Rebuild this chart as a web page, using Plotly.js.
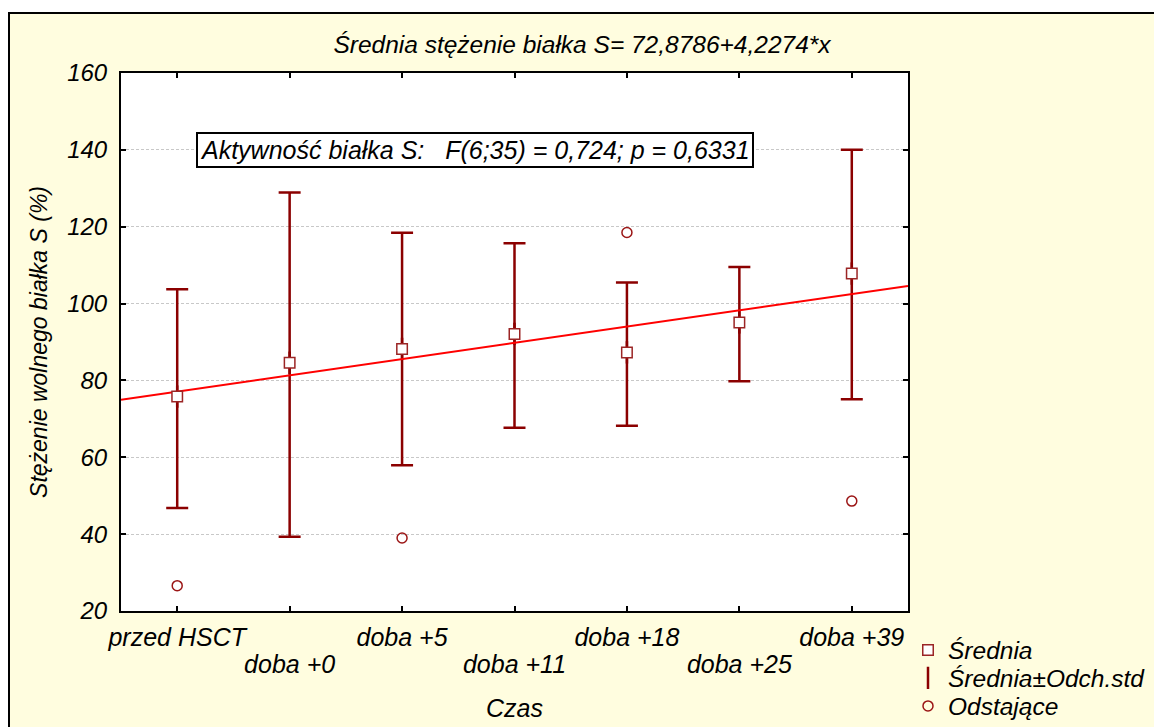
<!DOCTYPE html>
<html>
<head>
<meta charset="utf-8">
<script src="https://cdn.plot.ly/plotly-3.0.1.min.js"></script>
<style>
  html, body { margin:0; padding:0; background:#ffffff; overflow:hidden; }
  #frame { position:absolute; left:8px; top:12px; border-left:2px solid #000; border-top:2px solid #000; }
  #plot { width:1144px; height:713px; }
</style>
</head>
<body>
<div id="frame"><div id="plot"></div></div>
<script>
// ---- data ----
const categories = ["przed HSCT", "doba +0", "doba +5", "doba +11", "doba +18", "doba +25", "doba +39"];
const means      = [75.8, 84.6, 88.2, 92.1, 87.3, 95.1, 107.8];
const upperSD    = [103.7, 128.9, 118.4, 115.7, 105.5, 109.5, 140.0];
const lowerSD    = [46.8, 39.3, 57.9, 67.7, 68.2, 79.8, 75.1];
const outlierCategories = ["przed HSCT", "doba +5", "doba +18", "doba +39"];
const outlierValues     = [26.6, 39.0, 118.5, 48.6];
const yTickValues = [20, 40, 60, 80, 100, 120, 140, 160];
const fitIntercept = 72.8786;
const fitSlope = 4.2274;
const titleText = "Średnia stężenie białka S= 72,8786+4,2274*x";
const statsText = "Aktywność białka S:\u00A0\u00A0 F(6;35) = 0,724; p = 0,6331";
const xTitle = "Czas";
const yTitle = "Stężenie wolnego białka S (%)";

// ---- derived ----
const idx = categories.map((c, i) => i);
const errPlus  = upperSD.map((u, i) => u - means[i]);
const errMinus = lowerSD.map((l, i) => means[i] - l);
const outlierX = outlierCategories.map(c => categories.indexOf(c));
const xRange = [-0.5, categories.length - 0.5];
const fitX = xRange.slice();
const fitY = fitX.map(x => fitIntercept + fitSlope * (x + 1));
const row2Vals = idx.filter(i => i % 2 === 1);

const dark = "#8B0000";
const font = '"Liberation Sans", Arial, sans-serif';
const F = (size) => ({ family: font, size: size, color: "#000", style: "italic" });
const H = 713;

const traces = [
  {
    x: idx, y: means, type: "scatter", mode: "markers", name: "Średnia±Odch.std",
    legend: "legend2", xaxis: "x", yaxis: "y",
    marker: { symbol: "line-ns-open", size: 16, color: dark, line: { color: dark, width: 2.5 } },
    error_y: { type: "data", symmetric: false, array: errPlus, arrayminus: errMinus,
               color: dark, thickness: 2.5, width: 11 },
    hoverinfo: "skip"
  },
  {
    x: fitX, y: fitY, type: "scatter", mode: "lines", name: "fit", showlegend: false,
    xaxis: "x", yaxis: "y", line: { color: "#FF0000", width: 2 }, hoverinfo: "skip"
  },
  {
    x: idx, y: means, type: "scatter", mode: "markers", name: "Średnia",
    legend: "legend", xaxis: "x2", yaxis: "y",
    marker: { symbol: "square", size: 10.5, color: "#FFFFFF", line: { color: "#9B2525", width: 1.5 } }
  },
  {
    x: outlierX, y: outlierValues, type: "scatter", mode: "markers", name: "Odstające",
    legend: "legend3", xaxis: "x2", yaxis: "y",
    marker: { symbol: "circle-open", size: 10, color: "#9B1515", line: { width: 1.5 } }
  }
];

const legendBase = (yPx) => ({
  xref: "container", yref: "container", x: 898 / 1144, xanchor: "left",
  y: 1 - yPx / H, yanchor: "middle", bgcolor: "rgba(0,0,0,0)", itemwidth: 30, font: F(24.5)
});

const layout = {
  width: 1144, height: H,
  paper_bgcolor: "#FFFDDF", plot_bgcolor: "#FFFFFF",
  margin: { l: 111, r: 246, t: 59, b: 116, pad: 0, autoexpand: false },
  font: F(20),
  title: {
    text: titleText, xref: "container", x: 0.5, xanchor: "center",
    yref: "container", y: 1 - 30 / H, yanchor: "middle", font: F(24.5)
  },
  xaxis: {
    range: xRange, tickmode: "array", tickvals: idx,
    ticktext: categories.map((c, i) => (i % 2 === 0 ? c : "")),
    ticks: "inside", ticklen: 5, tickwidth: 2, tickcolor: "#000",
    showline: true, linewidth: 2, linecolor: "#000", mirror: "ticks", showgrid: false, zeroline: false,
    tickfont: F(25), ticklabelstandoff: 3,
    title: { text: xTitle, standoff: 49, font: F(25) }
  },
  xaxis2: {
    range: xRange, overlaying: "x", anchor: "y", side: "bottom", tickmode: "array",
    tickvals: row2Vals, ticktext: row2Vals.map(i => categories[i]),
    ticks: "", showline: false, showgrid: false, zeroline: false, ticklabelstandoff: 36,
    tickfont: F(25)
  },
  yaxis: {
    range: [yTickValues[0], yTickValues[yTickValues.length - 1]],
    tickmode: "array", tickvals: yTickValues, ticks: "inside", ticklen: 5, tickwidth: 2, tickcolor: "#000",
    showline: true, linewidth: 2, linecolor: "#000", mirror: "ticks",
    showgrid: true, gridcolor: "#C8C8C8", gridwidth: 1, griddash: "3px,2px", zeroline: false,
    ticklabelstandoff: 7, tickfont: F(24),
    title: { text: yTitle, standoff: 13, font: F(23) }
  },
  showlegend: true,
  legend: legendBase(636),
  legend2: legendBase(664),
  legend3: legendBase(692),
  annotations: [{
    text: statsText, xref: "paper", x: 0.45, xanchor: "center", yref: "y", y: 140, yanchor: "middle",
    showarrow: false, bgcolor: "#FFFFFF", bordercolor: "#000", borderwidth: 2, borderpad: 2,
    font: F(25)
  }]
};

Plotly.newPlot("plot", traces, layout, { staticPlot: true, displayModeBar: false });
</script>
</body>
</html>
